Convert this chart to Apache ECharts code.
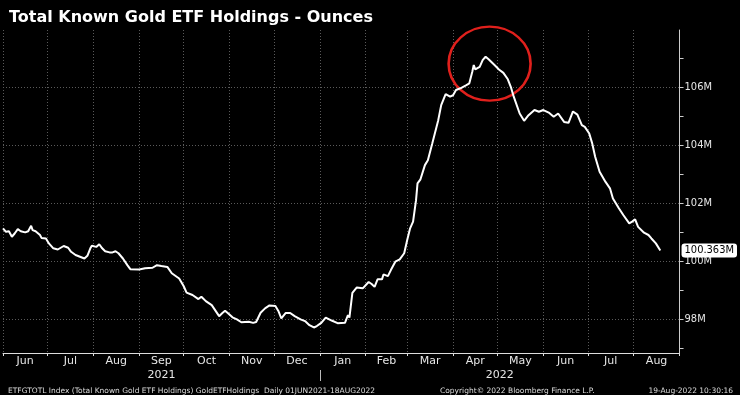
<!DOCTYPE html>
<html><head><meta charset="utf-8">
<script src="https://cdn.jsdelivr.net/npm/echarts@6/dist/echarts.min.js"></script>
<style>html,body{margin:0;padding:0;background:#000;}#c{width:740px;height:395px;}</style>
</head><body><div id="c"></div>
<script>
// Days since 1 Jun 2021
const days = [0,2,4,6,8,10,12,15,17,19,20,22,25,26,29,31,34,37,39,41,44,46,49,52,55,57,59,60,63,65,67,69,72,74,76,78,81,84,86,92,96,101,104,107,111,114,119,122,124,128,132,134,137,141,146,148,150,152,155,158,161,166,169,171,174,177,180,184,186,188,191,194,197,201,204,207,210,212,215,218,222,226,231,233,234,236,239,243,247,249,251,253,256,257,260,262,265,268,271,273,275,277,279,280,282,285,287,290,294,296,299,302,304,306,309,313,315,317,318,319,322,324,326,328,332,335,338,341,343,345,349,352,355,359,362,365,369,372,375,379,382,385,388,391,393,396,398,400,403,407,410,412,416,419,423,425,427,429,433,436,438,441,444];
// Holdings, million ounces
const values = [101.13,101.01,101.03,100.84,100.96,101.10,101.03,100.99,101.03,101.22,101.07,101.03,100.90,100.80,100.78,100.61,100.44,100.40,100.46,100.52,100.46,100.32,100.21,100.15,100.09,100.18,100.44,100.53,100.49,100.58,100.44,100.34,100.30,100.30,100.34,100.27,100.09,99.86,99.72,99.71,99.75,99.77,99.86,99.83,99.80,99.58,99.40,99.14,98.91,98.83,98.69,98.77,98.62,98.48,98.10,98.20,98.29,98.20,98.06,97.99,97.89,97.91,97.87,97.90,98.22,98.37,98.47,98.45,98.28,98.02,98.21,98.21,98.10,97.99,97.93,97.79,97.71,97.76,97.87,98.05,97.95,97.86,97.87,98.14,98.05,98.90,99.09,99.06,99.28,99.21,99.11,99.37,99.37,99.54,99.48,99.69,99.98,100.06,100.27,100.72,101.13,101.36,102.10,102.68,102.82,103.31,103.48,104.06,104.86,105.38,105.76,105.67,105.72,105.90,105.96,106.07,106.13,106.53,106.76,106.61,106.70,106.93,107.05,106.96,106.76,106.61,106.49,106.27,106.01,105.67,105.09,104.84,105.03,105.21,105.15,105.21,105.11,104.98,105.09,104.80,104.77,105.16,105.05,104.69,104.63,104.40,104.06,103.60,103.08,102.73,102.51,102.16,101.82,101.59,101.30,101.36,101.44,101.18,100.98,100.90,100.78,100.61,100.363];
const monthLabels = ['Jun','Jul','Aug','Sep','Oct','Nov','Dec','Jan','Feb','Mar','Apr','May','Jun','Jul','Aug'];
const yearLabels = ['2021','2022'];
const yTickLabels = [98,100,102,104,106];
const yMinorTicks = [97,98,99,100,101,102,103,104,105,106,107];
const lastValueText = '100.363M';

const DAY = 86400000;
const t0 = Date.UTC(2021,5,1);
const bounds = [];
for (let i = 0; i <= monthLabels.length; i++) bounds.push(Math.round((Date.UTC(2021,5+i,1)-t0)/DAY));
const mids = [];
for (let i = 0; i < monthLabels.length; i++) mids.push((bounds[i]+bounds[i+1])/2);
const jan = bounds[7];
const yearMids = [jan/2, (jan+bounds[bounds.length-1])/2];
const XMAX = bounds[bounds.length-1];
const YMIN = 96.83, YMAX = 107.97;

const data = days.map((d,i)=>[d, values[i]]);
let pk = 0; values.forEach((v,i)=>{ if (v > values[pk]) pk = i; });

const gridLine = {show:true, lineStyle:{color:'#5a5a5a', type:[1,2], width:1}};
const chart = echarts.init(document.getElementById('c'));
chart.setOption({
  backgroundColor:'#000',
  animation:false,
  title:[
    {text:'Total Known Gold ETF Holdings - Ounces', left:4, top:5, textStyle:{color:'#fff', fontSize:16, fontWeight:'bold', fontFamily:'DejaVu Sans'}},
    {text:'ETFGTOTL Index (Total Known Gold ETF Holdings) GoldETFHoldings  Daily 01JUN2021-18AUG2022', left:3, top:382, textStyle:{color:'#ddd', fontSize:7.5, fontWeight:'normal', fontFamily:'DejaVu Sans'}},
    {text:'Copyright\u00a9 2022 Bloomberg Finance L.P.', left:435, top:382, textStyle:{color:'#ddd', fontSize:7.5, fontWeight:'normal', fontFamily:'DejaVu Sans'}},
    {text:'19-Aug-2022 10:30:16', right:2, top:382, textStyle:{color:'#ddd', fontSize:7.5, fontWeight:'normal', fontFamily:'DejaVu Sans'}}
  ],
  grid:{left:3, right:57, top:30, bottom:42},
  xAxis:[
    {type:'value', min:0, max:XMAX, position:'bottom',
     axisLine:{show:true, onZero:false, lineStyle:{color:'#ddd', width:1}},
     axisTick:{show:true, inside:false, customValues:bounds, length:3, lineStyle:{color:'#ddd'}},
     axisLabel:{show:false}, splitLine:gridLine},
    {type:'value', min:0, max:XMAX, position:'bottom',
     axisLine:{show:false, onZero:false}, axisTick:{show:false}, splitLine:{show:false},
     axisLabel:{customValues:mids, margin:3, color:'#e6e6e6', fontSize:11, fontFamily:'DejaVu Sans',
       formatter:(v)=>{ const i = mids.indexOf(v); return i>=0 ? monthLabels[i] : ''; }}},
    {type:'value', min:0, max:XMAX, position:'bottom', offset:17,
     axisLine:{show:false, onZero:false}, splitLine:{show:false},
     axisTick:{show:true, inside:false, customValues:[jan], length:11, lineStyle:{color:'#bbb'}},
     axisLabel:{customValues:yearMids, margin:0, color:'#e6e6e6', fontSize:11, fontFamily:'DejaVu Sans',
       formatter:(v)=>{ const i = yearMids.indexOf(v); return i>=0 ? yearLabels[i] : ''; }}}
  ],
  yAxis:[
    {type:'value', min:YMIN, max:YMAX, position:'right',
     axisLine:{show:true, onZero:false, lineStyle:{color:'#ccc'}},
     axisTick:{show:true, inside:false, customValues:yMinorTicks, length:4, lineStyle:{color:'#ccc'}},
     axisLabel:{customValues:yTickLabels, margin:5, color:'#e6e6e6', fontSize:11, fontFamily:'DejaVu Sans Condensed, DejaVu Sans', formatter:(v)=>v+'M'},
     splitLine:{show:false}},
    {type:'value', min:YMIN, max:YMAX, position:'right',
     axisLine:{show:false, onZero:false}, axisTick:{show:false, customValues:yTickLabels}, axisLabel:{show:false, customValues:yTickLabels},
     splitLine:gridLine},
    {type:'value', min:YMIN, max:YMAX, position:'right',
     axisLine:{show:false, onZero:false}, axisTick:{show:false}, splitLine:{show:false},
     axisLabel:{customValues:[values[values.length-1]], margin:2, color:'#000', backgroundColor:'#fff', borderRadius:3, padding:[2,3,1,3],
       fontSize:11, fontFamily:'DejaVu Sans Condensed, DejaVu Sans', formatter:()=>lastValueText}}
  ],
  series:[{
    type:'line', xAxisIndex:0, yAxisIndex:0, data:data, showSymbol:false, symbol:'none',
    lineStyle:{color:'#fff', width:2}, z:5,
    markPoint:{
      symbol:'circle', symbolSize:[82,74], symbolOffset:[4,7], silent:true,
      label:{show:false},
      itemStyle:{color:'rgba(0,0,0,0)', borderColor:'#e0201c', borderWidth:2.5},
      data:[{coord:[days[pk], values[pk]]}]
    }
  }]
});
</script></body></html>
